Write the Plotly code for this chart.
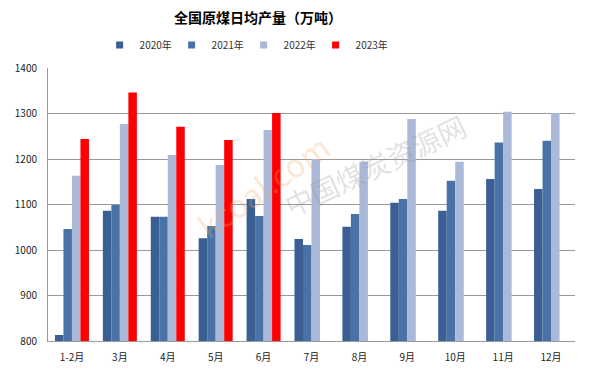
import plotly.graph_objects as go

categories = ["1-2月", "3月", "4月", "5月", "6月", "7月", "8月", "9月", "10月", "11月", "12月"]
y2020 = [813, 1086, 1073, 1026, 1112, 1024, 1051, 1104, 1086, 1156, 1134]
y2021 = [1046, 1099, 1073, 1053, 1075, 1011, 1079, 1112, 1152, 1236, 1240]
y2022 = [1163, 1277, 1209, 1187, 1264, 1200, 1194, 1288, 1194, 1304, 1301]
y2023 = [1244, 1346, 1271, 1242, 1301, None, None, None, None, None, None]
series_names = ["2020年", "2021年", "2022年", "2023年"]
colors = ["#3A5F93", "#4773A8", "#AAB9D7", "#FF0000"]

fig = go.Figure()
for name, vals, col in zip(series_names, [y2020, y2021, y2022, y2023], colors):
    fig.add_trace(go.Bar(x=categories, y=vals, name=name, showlegend=False,
                         marker=dict(color=col, line=dict(width=0))))
# legend-only entries with small square symbols
for name, col in zip(series_names, colors):
    fig.add_trace(go.Scatter(x=[None], y=[None], mode="markers", name=name,
                             marker=dict(symbol="square", size=7, color=col)))

font = "Noto Sans CJK SC, sans-serif"
fig.update_layout(
    width=590, height=380,
    margin=dict(l=48, r=15, t=68, b=39, autoexpand=False),
    paper_bgcolor="white", plot_bgcolor="white",
    barmode="group", bargap=0.29, bargroupgap=0,
    font=dict(family=font, size=10, color="#222"),
    title=dict(text="<b>全国原煤日均产量（万吨）</b>", x=258/590, xanchor="center",
               y=1 - 18/380, yanchor="middle", yref="container",
               font=dict(size=14, color="#000", family=font)),
    legend=dict(orientation="h", x=219/590, xanchor="center", xref="paper",
                y=1 - 45/380, yanchor="middle", yref="container",
                font=dict(size=10, color="#333"), itemwidth=30, entrywidth=27,
                traceorder="normal", tracegroupgap=0),
    showlegend=True,
    annotations=[
        dict(text="kcoal.com", x=(185-48)/527, y=(341-185)/273, xref="paper", yref="paper",
             showarrow=False, textangle=-35,
             font=dict(size=32, color="rgba(245,170,110,0.28)", family=font)),
        dict(text="中国煤炭资源网", x=(375-48)/527, y=(341-165)/273, xref="paper", yref="paper",
             showarrow=False, textangle=-25,
             font=dict(size=28, color="rgba(150,150,150,0.28)", family=font)),
    ],
)
fig.update_xaxes(showline=True, linecolor="#999", linewidth=1, ticks="", tickfont=dict(size=10, color="#222"),
                 showgrid=False, automargin=False, ticklabelstandoff=7)
fig.update_yaxes(range=[800, 1400], dtick=100, showgrid=True, gridcolor="#999", gridwidth=1,
                 showline=True, linecolor="#999", linewidth=1, ticks="", tickfont=dict(size=10, color="#222"),
                 zeroline=False, ticklabelstandoff=8, automargin=False)
fig.write_html("out.html", config={"displayModeBar": False},
               post_script="document.body.style.margin='0px';")
